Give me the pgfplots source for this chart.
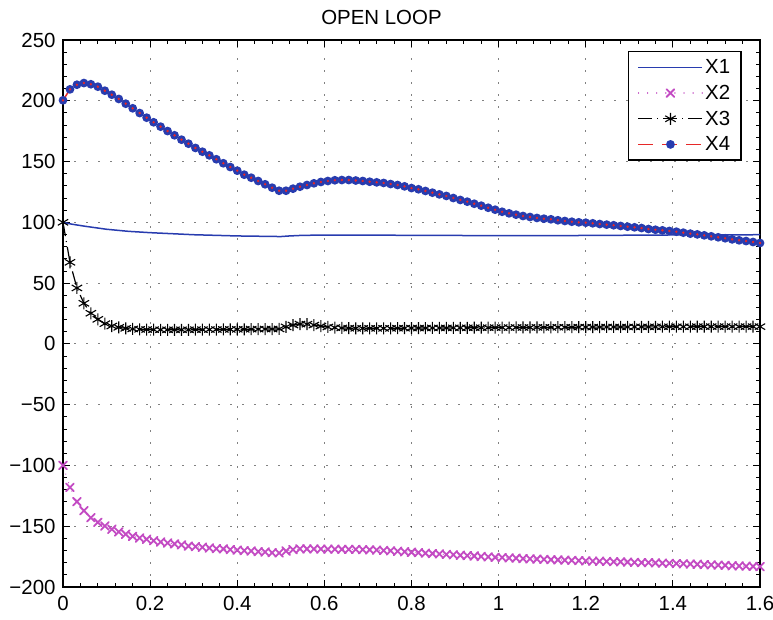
\documentclass[border=0pt]{standalone}
\usepackage{pgfplots}
\pgfplotsset{compat=1.18}
\usepackage{pgfplotstable}
\usepackage{fontspec}
\setmainfont{Liberation Sans}
\definecolor{mblue}{RGB}{40,60,175}
\definecolor{mmag}{RGB}{195,75,195}
\definecolor{mred}{RGB}{230,40,40}
\pgfplotstableread{
x y2 y3 y4
0 -99.9 100 200.4
0.016 -118 67.1 209.4
0.032 -129.8 46 213.2
0.048 -137.2 33.4 214.6
0.064 -143 25.2 213.6
0.08 -146.8 20.2 211.6
0.096 -149.8 16.6 208.3
0.112 -152.5 14.7 205
0.128 -154.7 13.6 201.5
0.144 -156.6 12.8 197.6
0.16 -158.3 12.3 193.8
0.176 -159.7 12 189.9
0.192 -160.7 11.8 186.1
0.208 -161.9 11.7 182.3
0.224 -163 11.6 178.7
0.24 -163.8 11.6 175.1
0.256 -164.6 11.6 171.6
0.272 -165.4 11.6 168
0.288 -166.3 11.6 164.7
0.304 -166.8 11.7 161.2
0.32 -167.3 11.7 158.1
0.336 -167.9 11.8 155.1
0.352 -168.5 11.8 151.9
0.368 -168.7 11.9 148.6
0.384 -169.3 11.9 145.5
0.4 -169.6 12 142.5
0.416 -170.1 12 139.2
0.432 -170.4 12.1 136.7
0.448 -170.9 12.1 134
0.464 -171.2 12.2 131.3
0.48 -171.8 12.2 128.5
0.496 -172 12.3 126
0.512 -170.4 14 126
0.528 -169.3 15.5 127.7
0.544 -168.7 16.3 129.3
0.56 -168.7 16.2 130.7
0.576 -168.7 15.5 132.1
0.592 -168.8 14.6 133.2
0.608 -168.9 13.9 134
0.624 -168.9 13.4 134.6
0.64 -169 13.1 134.8
0.656 -169 12.9 134.8
0.672 -169.1 12.8 134.4
0.688 -169.2 12.8 134
0.704 -169.4 12.8 133.4
0.72 -169.6 12.8 132.9
0.736 -169.9 12.8 132.4
0.752 -170.2 12.8 131.5
0.768 -170.6 12.9 130.7
0.784 -171 12.9 129.6
0.8 -171.4 13 128.2
0.816 -171.8 13 127.2
0.832 -172.2 13 125.8
0.848 -172.5 13.1 124.4
0.864 -172.8 13.1 123
0.88 -173.2 13.1 121.7
0.896 -173.5 13.2 120
0.912 -173.9 13.2 118.4
0.928 -174.2 13.2 117
0.944 -174.5 13.3 115.3
0.96 -174.9 13.3 113.7
0.976 -175.2 13.3 112
0.992 -175.6 13.4 110.4
1.008 -175.8 13.4 108.7
1.024 -176.1 13.4 107.4
1.04 -176.3 13.5 106.3
1.056 -176.6 13.5 105.2
1.072 -176.8 13.5 104.4
1.088 -177 13.6 103.6
1.104 -177.3 13.6 103
1.12 -177.5 13.6 102.5
1.136 -177.7 13.7 101.7
1.152 -177.9 13.7 101.1
1.168 -178.1 13.7 100.5
1.184 -178.3 13.8 100
1.2 -178.5 13.8 99.7
1.216 -178.7 13.8 99.2
1.232 -178.8 13.8 98.6
1.248 -179 13.9 98.1
1.264 -179.2 13.9 97.6
1.28 -179.3 13.9 97
1.296 -179.5 13.9 96.4
1.312 -179.7 14 95.9
1.328 -179.9 14 95.3
1.344 -180 14 94.5
1.36 -180.2 14 93.9
1.376 -180.4 14.1 93.4
1.392 -180.5 14.1 92.9
1.408 -180.7 14.1 92.3
1.424 -180.9 14.1 91.5
1.44 -181.1 14.1 90.7
1.456 -181.3 14.2 90.1
1.472 -181.6 14.2 89.3
1.488 -181.8 14.2 88.5
1.504 -182 14.2 87.7
1.52 -182.2 14.2 86.9
1.536 -182.5 14.2 86
1.552 -182.7 14.2 85.2
1.568 -182.9 14.2 84.6
1.584 -183.1 14.2 83.8
1.6 -183.3 14.2 83
}\datatab
\begin{document}
\begin{tikzpicture}
\begin{axis}[
  scale only axis, width=697bp, height=547bp,
  xmin=0, xmax=1.6, ymin=-200, ymax=250,
  xtick={0,0.2,0.4,0.6,0.8,1,1.2,1.4,1.6},
  xticklabels={0,0.2,0.4,0.6,0.8,1,1.2,1.4,1.6},
  ytick={-200,-150,-100,-50,0,50,100,150,200,250},
  yticklabels={−200,−150,−100,−50,0,50,100,150,200,250},
  minor x tick num=4, minor y tick num=4,
  tick pos=both, tick align=inside,
  major tick length=7bp, minor tick length=4bp,
  every tick/.style={black, line width=0.9bp},
  axis line style={black, line width=1.6bp},
  grid=major,
  major grid style={black, line width=1.2bp, line cap=round, dash pattern=on 0.1bp off 11.9bp},
  tick label style={font=\fontsize{20.5}{23}\selectfont},
  xticklabel style={yshift=-6bp},
  yticklabel style={xshift=-4bp},
  title={OPEN LOOP},
  title style={font=\fontsize{20.5}{23}\selectfont, yshift=6bp, xshift=-30bp},
  legend style={at={(0.974,0.98)}, anchor=north east, draw=black, line width=1.4bp,
    font=\fontsize{20.5}{23}\selectfont, row sep=6bp, inner xsep=9bp, inner ysep=6bp,
    cells={anchor=west}},
  legend image code/.code={\draw[mark repeat=2,mark phase=2,#1] plot coordinates {(0bp,0bp) (32bp,0bp) (64bp,0bp)};},
]
\addplot[mblue, line width=1.5bp] coordinates {
(0,100) (0.02,98.5) (0.05,96.8) (0.1,94.3) (0.15,92.6) (0.2,91.5) (0.3,89.8) (0.4,88.8) (0.5,88.3) (0.52,88.8) (0.55,89.3) (0.6,89.5) (0.7,89.5) (0.8,89.3) (0.9,89.2) (1.0,89) (1.1,89) (1.2,89.2) (1.3,89.4) (1.4,89.6) (1.5,89.7) (1.6,89.8)};
\addlegendentry{X1}
\addplot[mmag, line width=1.2bp, line cap=round, dash pattern=on 0.1bp off 9bp, mark=x, mark size=5.5bp, mark options={solid, line width=1.8bp}] table[x=x, y=y2] {\datatab};
\addlegendentry{X2}
\addplot[black, line width=1.2bp, dash pattern=on 14bp off 5bp on 1bp off 5bp, mark=asterisk, mark size=6bp, mark options={solid, line width=1.1bp}] table[x=x, y=y3] {\datatab};
\addlegendentry{X3}
\addplot[mred, line width=1.5bp, dash pattern=on 15bp off 9bp, mark=*, mark size=3.6bp, mark options={solid, fill=mblue, draw=mblue}] table[x=x, y=y4] {\datatab};
\addlegendentry{X4}
\addplot[forget plot, only marks, mark=*, mark size=1bp, mred] table[x=x, y=y4] {\datatab};
\end{axis}
\pgfresetboundingbox
\path ([shift={(-63bp,-33bp)}]current axis.south west) rectangle ([shift={(13bp,40bp)}]current axis.north east);
\end{tikzpicture}
\end{document}
